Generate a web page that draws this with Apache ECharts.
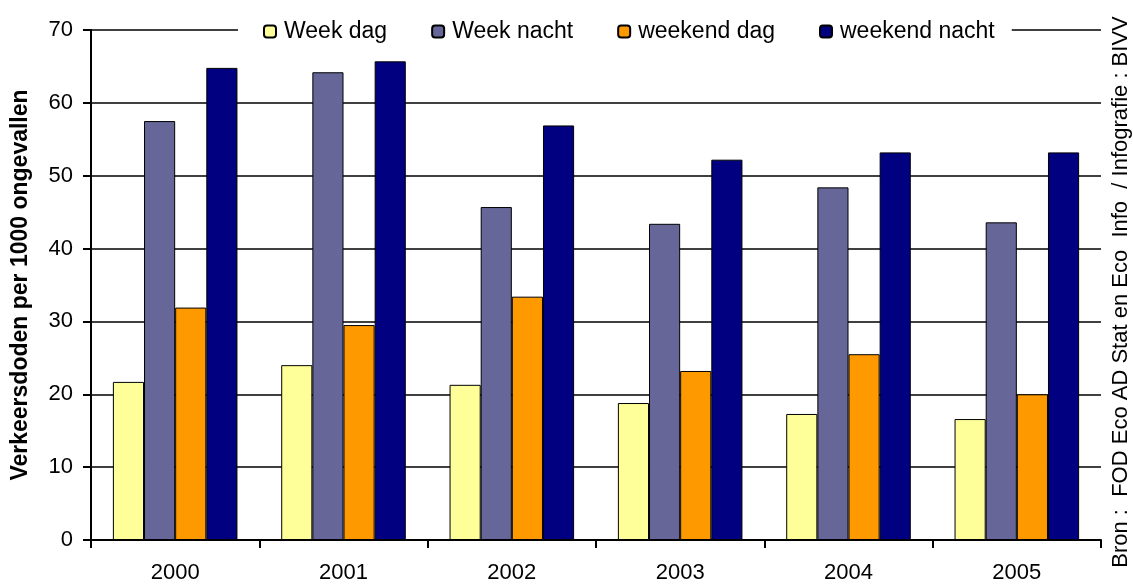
<!DOCTYPE html>
<html><head><meta charset="utf-8">
<script src="https://cdn.jsdelivr.net/npm/echarts@6/dist/echarts.min.js"></script>
<style>html,body{margin:0;padding:0;background:#fff}#c{width:1133px;height:584px}</style>
</head><body><div id="c"></div>
<script>
const categories = ['2000','2001','2002','2003','2004','2005'];
const weekDag = [21.7, 24.0, 21.3, 18.8, 17.3, 16.6];
const weekNacht = [57.5, 64.2, 45.7, 43.4, 48.4, 43.6];
const weekendDag = [31.9, 29.5, 33.4, 23.2, 25.5, 20.0];
const weekendNacht = [64.8, 65.7, 56.9, 52.2, 53.2, 53.2];
const seriesNames = ['Week dag','Week nacht','weekend dag','weekend nacht'];
const yTitle = 'Verkeersdoden per 1000 ongevallen';
const sourceText = 'Bron :  FOD Eco AD Stat en Eco  Info  / Infografie : BIVV';

const colors = ['#FFFF99','#666699','#FF9900','#000080'];
const font = 'Arial, "Liberation Sans", sans-serif';
const chart = echarts.init(document.getElementById('c'), null, {renderer:'canvas'});
const dataSets = [weekDag, weekNacht, weekendDag, weekendNacht];
chart.setOption({
  animation:false,
  backgroundColor:'#fff',
  grid:{left:91, right:32, top:30, bottom:44},
  legend:{
    top:16, left:238,
    padding:[4,17,4,25],
    backgroundColor:'#fff',
    itemWidth:12, itemHeight:12, itemGap:44,
    textStyle:{fontFamily:font, fontSize:23, color:'#000', padding:[0,0,0,3]},
    data:seriesNames
  },
  xAxis:{
    type:'category', data:categories,
    axisLine:{lineStyle:{color:'#000', width:2}},
    axisTick:{show:true, length:8, lineStyle:{color:'#000', width:2}},
    axisLabel:{fontFamily:font, fontSize:22, color:'#000', margin:22}
  },
  yAxis:{
    type:'value', min:0, max:70, interval:10,
    name:yTitle, nameLocation:'middle', nameGap:59,
    nameTextStyle:{fontFamily:font, fontSize:23, fontWeight:'bold', color:'#000'},
    axisLine:{show:true, lineStyle:{color:'#000', width:2}},
    axisTick:{show:true, length:8, lineStyle:{color:'#000', width:2}},
    axisLabel:{fontFamily:font, fontSize:22, color:'#000', margin:18},
    splitLine:{lineStyle:{color:'#000', width:1.5}}
  },
  series: dataSets.map((d,i)=>({
    type:'bar', name:seriesNames[i], data:d,
    barGap:'0%', barCategoryGap:'26%',
    itemStyle:{color:colors[i], borderColor:'#000', borderWidth:1}
  })),
  graphic:[{
    type:'text', left:1110, top:'middle',
    style:{text:sourceText, fontFamily:font, fontSize:22, fill:'#000'},
    rotation:Math.PI/2
  }]
});
</script></body></html>
